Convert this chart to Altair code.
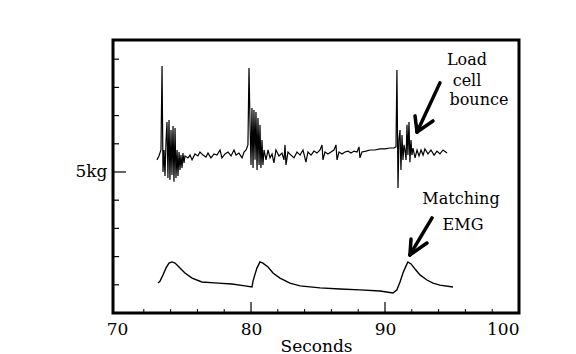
import altair as alt
import pandas as pd

# ---- data (seconds, kg) ----
load_t = [72.98, 73.13, 73.28, 73.36, 73.43, 73.51, 73.58, 73.66, 73.73, 73.80, 73.88, 73.95, 74.03, 74.10,
          74.18, 74.25, 74.33, 74.40, 74.48, 74.55, 74.63, 74.70, 74.77, 74.85, 74.92, 75.00, 75.07,
          75.30, 75.45, 75.60, 75.82, 76.04, 76.19, 76.42, 76.64, 76.79, 77.01, 77.24, 77.46, 77.69, 77.83,
          78.06, 78.28, 78.51, 78.73, 78.88, 79.10, 79.33, 79.48, 79.63,
          79.77, 79.85, 79.92, 80.00, 80.07, 80.15, 80.22, 80.30, 80.37, 80.45, 80.52, 80.60, 80.67, 80.74,
          80.82, 80.89, 80.97, 81.12, 81.27, 81.42, 81.57, 81.71, 81.86, 82.09, 82.31, 82.46, 82.54, 82.61,
          82.76, 82.98,
          83.21, 83.43, 83.66, 83.88, 84.10, 84.25, 84.48, 84.70, 84.92, 85.15, 85.30, 85.37, 85.52, 85.74,
          85.97, 86.19, 86.34, 86.42, 86.57, 86.79, 87.01, 87.24, 87.46, 87.69, 87.91, 88.06, 88.13, 88.28,
          88.58, 88.88, 89.25, 89.63, 90.00, 90.37, 90.67,
          90.82, 90.89, 90.97, 91.04, 91.12, 91.19, 91.27, 91.34, 91.42, 91.49, 91.57, 91.64, 91.71, 91.79,
          91.86, 91.94, 92.01, 92.09, 92.24, 92.39, 92.54, 92.69, 92.84, 92.98, 93.21, 93.43, 93.66, 93.88,
          94.10, 94.33, 94.63]
load_kg = [5.43, 5.57, 5.78, 8.76, 5.00, 5.78, 4.86, 6.13, 6.77, 4.79, 6.84, 4.72, 6.49, 4.89,
           6.63, 4.65, 6.56, 4.79, 5.78, 4.86, 5.71, 5.07, 5.60, 5.14, 5.67, 5.32, 5.57,
           5.50, 5.60, 5.43, 5.64, 5.57, 5.71, 5.60, 5.53, 5.67, 5.50, 5.64, 5.60, 5.78, 5.50,
           5.64, 5.71, 5.57, 5.78, 5.60, 5.67, 5.50, 5.71, 5.78,
           5.96, 8.69, 6.84, 5.25, 7.27, 5.14, 7.20, 5.43, 7.13, 5.07, 6.91, 5.25, 6.67, 5.14,
           6.13, 5.25, 5.78, 5.43, 5.78, 5.50, 5.64, 5.32, 5.78, 5.57, 5.67, 5.43, 5.96, 5.25,
           5.71, 5.60,
           5.50, 5.71, 5.60, 5.78, 5.35, 5.71, 5.60, 5.74, 5.67, 5.78, 5.96, 5.43, 5.71, 5.64,
           5.71, 5.78, 5.96, 5.43, 5.71, 5.64, 5.71, 5.74, 5.67, 5.74, 5.71, 5.89, 5.50, 5.71,
           5.74, 5.78, 5.78, 5.82, 5.82, 5.85, 5.85,
           5.89, 8.62, 4.43, 6.13, 6.49, 5.07, 6.31, 5.43, 5.96, 5.78, 5.43, 6.67, 5.60, 6.77,
           5.35, 6.13, 5.60, 5.85, 5.50, 5.78, 5.57, 5.78, 5.60, 5.82, 5.64, 5.78, 5.60, 5.74,
           5.64, 5.78, 5.67]

emg_t = [73.06, 73.21, 73.43, 73.66, 73.88, 74.10, 74.33, 74.55, 75.07, 75.60, 76.34, 77.54, 78.58,
         79.55, 80.07, 80.15, 80.30, 80.45, 80.67, 80.89, 81.27, 81.64, 82.16, 82.91, 83.66, 85.15,
         86.64, 88.13, 89.63, 90.60, 90.89, 91.12, 91.34, 91.57, 91.71, 91.94, 92.24, 92.61, 93.13,
         93.58, 94.10, 95.07]
emg_kg = [1.06, 1.13, 1.35, 1.60, 1.77, 1.81, 1.77, 1.67, 1.42, 1.24, 1.10, 1.06, 1.03,
          0.96, 0.92, 1.13, 1.38, 1.60, 1.81, 1.77, 1.63, 1.42, 1.24, 1.06, 0.96, 0.89,
          0.85, 0.82, 0.78, 0.71, 0.82, 1.10, 1.42, 1.67, 1.81, 1.74, 1.56, 1.35, 1.17,
          1.06, 0.99, 0.92]

x_labels = [70, 80, 90, 100]
x_minor = [72, 74, 76, 78, 82, 84, 86, 88, 92, 94, 96, 98]
x_major = [80, 90]
y_minor = [1, 2, 3, 4, 6, 7, 8, 9]
y_major = [5]

note_text = ["Load", "cell", "bounce", "Matching", "EMG"]
note_t = [96.12, 96.12, 97.01, 95.67, 95.82]
note_kg = [8.80, 8.06, 7.38, 3.87, 2.94]

# arrow strokes: shaft, barb, barb for each arrow
arrow_t = [94.10, 92.39, 92.39, 93.51, 91.86, 91.86]
arrow_kg = [8.16, 6.42, 6.42, 3.37, 2.06, 2.06]
arrow_t2 = [92.39, 92.24, 93.58, 91.86, 91.94, 93.13]
arrow_kg2 = [6.42, 6.99, 6.81, 2.06, 2.62, 2.48]

FONT = "DejaVu Serif"

xs = alt.Scale(domain=[69.7, 100.0], nice=False, zero=False)
ys = alt.Scale(domain=[0, 9.68], nice=False, zero=False)

load_df = pd.DataFrame({"t": load_t, "kg": load_kg, "i": range(len(load_t))})
emg_df = pd.DataFrame({"t": emg_t, "kg": emg_kg, "i": range(len(emg_t))})

base_axes = alt.Chart(load_df).mark_line(stroke="black", strokeWidth=1.2).encode(
    x=alt.X("t:Q", scale=xs,
            axis=alt.Axis(values=x_labels, title="Seconds", domain=False, ticks=False, grid=False,
                          labelFont=FONT, labelFontSize=17, labelColor="black", labelPadding=8,
                          titleFont=FONT, titleFontSize=17, titleFontWeight="normal",
                          titleColor="black", titlePadding=1, format="d")),
    y=alt.Y("kg:Q", scale=ys,
            axis=alt.Axis(values=[5], labelExpr="'5kg'", title=None, domain=False, ticks=False,
                          grid=False, labelFont=FONT, labelFontSize=17, labelColor="black",
                          labelPadding=6)),
    order="i:O",
)

emg = alt.Chart(emg_df).mark_line(stroke="black", strokeWidth=1.4).encode(
    x=alt.X("t:Q", scale=xs), y=alt.Y("kg:Q", scale=ys), order="i:O")

xminor = alt.Chart(pd.DataFrame({"t": x_minor})).mark_rule(color="black", strokeWidth=1).encode(
    x=alt.X("t:Q", scale=xs), y=alt.value(273), y2=alt.value(269))
xmajor = alt.Chart(pd.DataFrame({"t": x_major})).mark_rule(color="black", strokeWidth=1.2).encode(
    x=alt.X("t:Q", scale=xs), y=alt.value(273), y2=alt.value(262))
yminor = alt.Chart(pd.DataFrame({"kg": y_minor})).mark_rule(color="black", strokeWidth=1.2).encode(
    y=alt.Y("kg:Q", scale=ys), x=alt.value(0), x2=alt.value(6))
ymajor = alt.Chart(pd.DataFrame({"kg": y_major})).mark_rule(color="black", strokeWidth=1.2).encode(
    y=alt.Y("kg:Q", scale=ys), x=alt.value(0), x2=alt.value(13))

notes = alt.Chart(pd.DataFrame({"txt": note_text, "t": note_t, "kg": note_kg})).mark_text(
    font=FONT, fontSize=16, color="black", align="center", baseline="alphabetic").encode(
    x=alt.X("t:Q", scale=xs), y=alt.Y("kg:Q", scale=ys), text="txt:N")

arrows = alt.Chart(pd.DataFrame({"t": arrow_t, "kg": arrow_kg, "t2": arrow_t2, "kg2": arrow_kg2})).mark_rule(
    color="black", strokeWidth=3.5, strokeCap="round").encode(
    x=alt.X("t:Q", scale=xs), y=alt.Y("kg:Q", scale=ys), x2="t2:Q", y2="kg2:Q")

chart = alt.layer(base_axes, emg, xminor, xmajor, yminor, ymajor, arrows, notes).properties(
    width=406, height=273,
    autosize=alt.AutoSizeParams(type="none"),
    padding={"left": 113, "top": 40, "right": 57, "bottom": 41},
    background="white",
).configure_view(stroke="black", strokeWidth=3)

chart.save("out.html", embed_options={"renderer": "svg", "actions": False})
